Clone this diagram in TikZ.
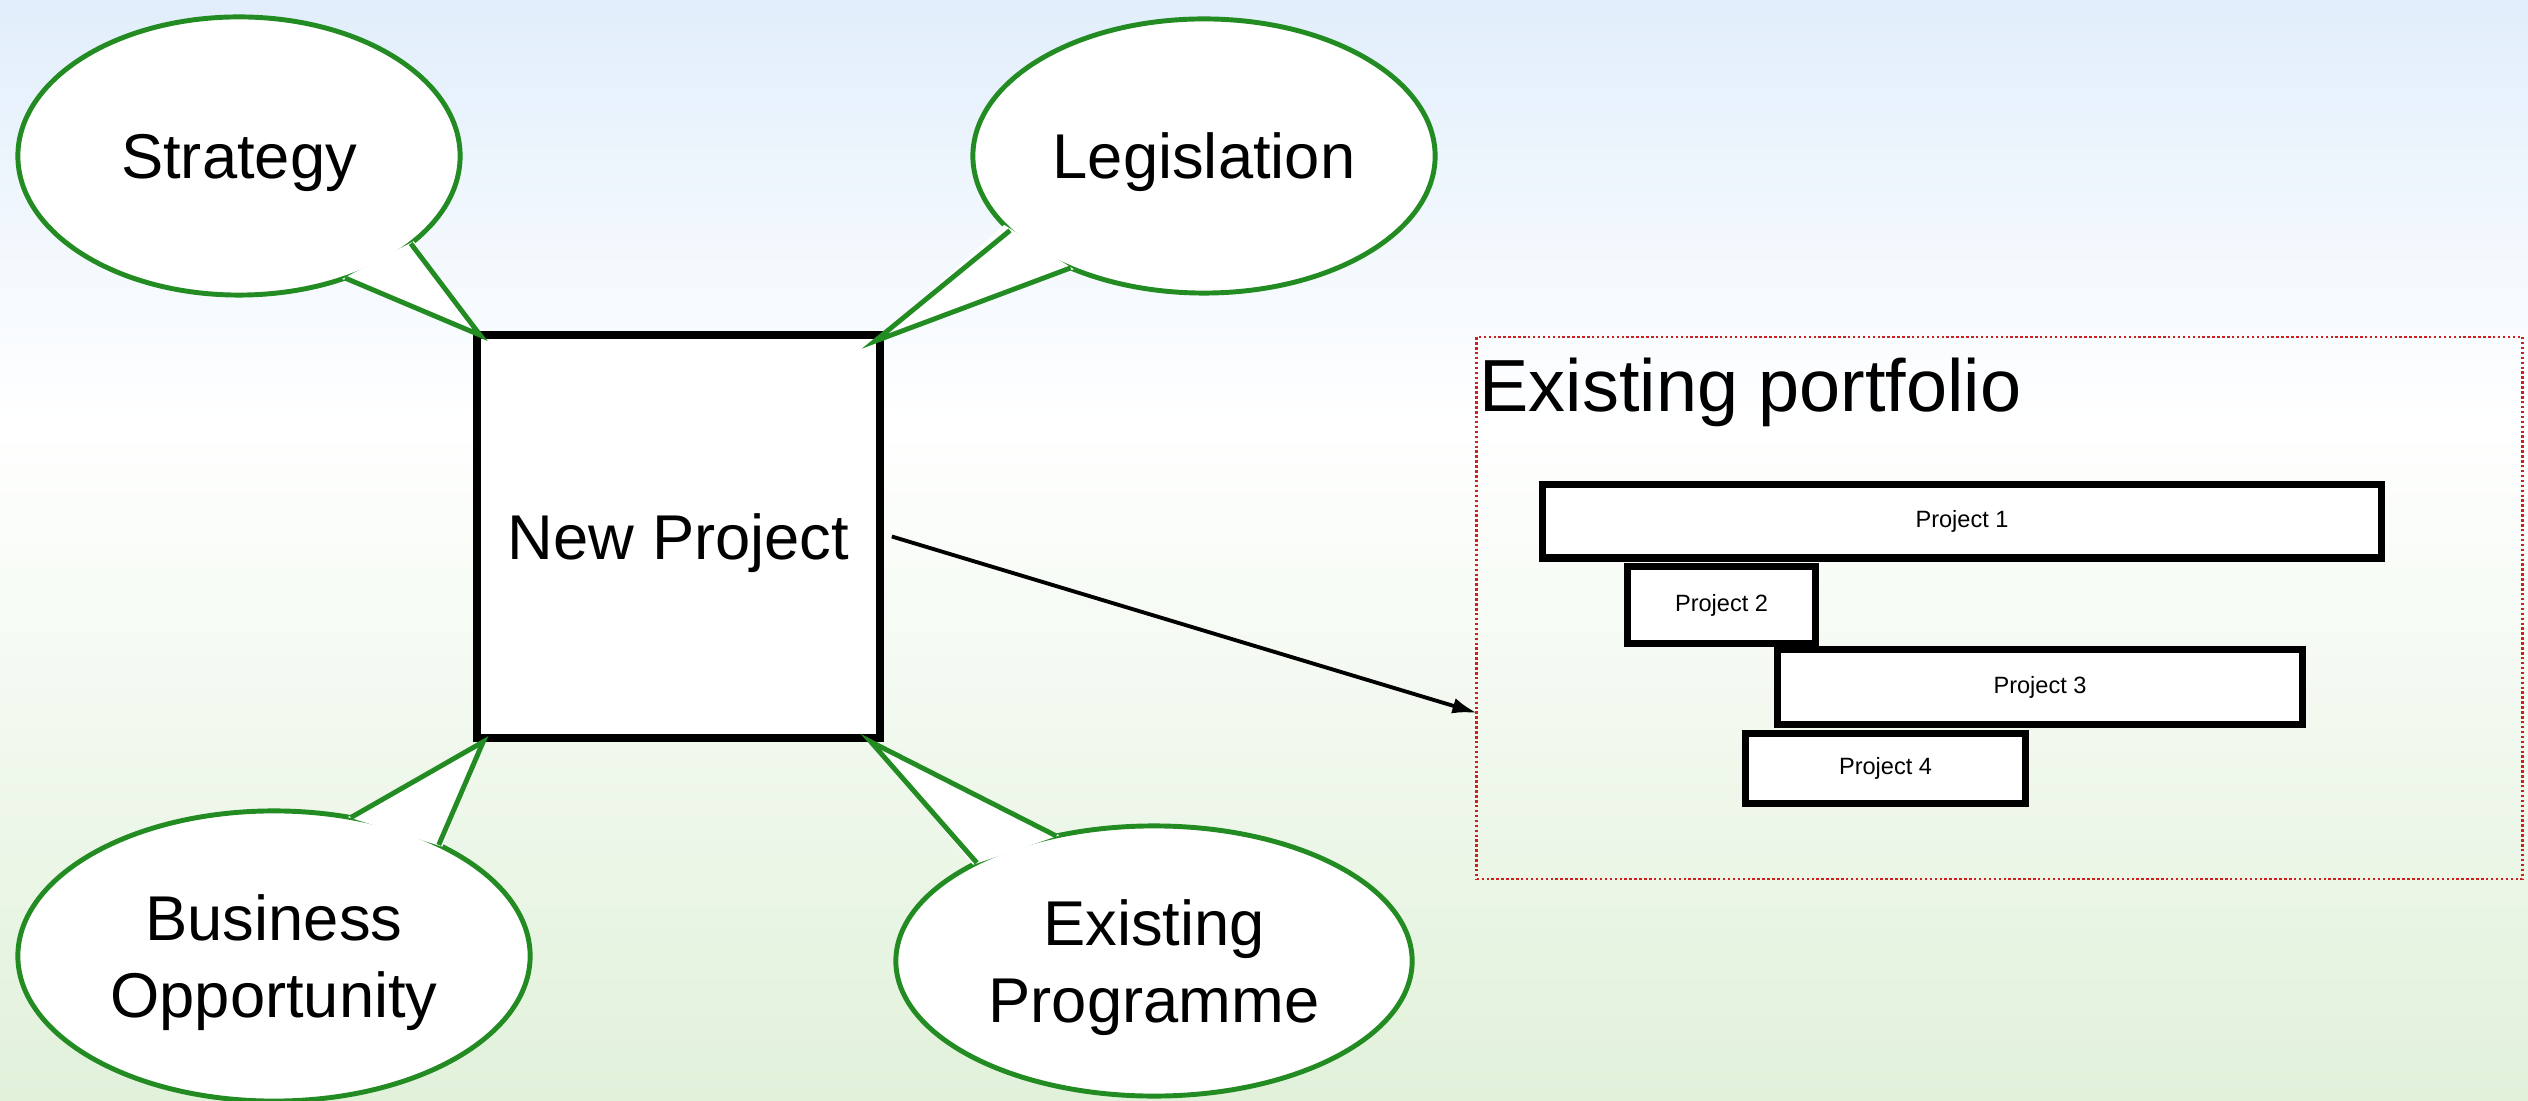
\documentclass[tikz,border=0pt]{standalone}
\usepackage{fontspec}
\setmainfont{Liberation Sans}
\usetikzlibrary{shapes.geometric,arrows.meta,calc}
\definecolor{calloutgreen}{RGB}{34,139,34}
\definecolor{skyblue}{RGB}{225,238,251}
\definecolor{meadow}{RGB}{225,241,218}
\definecolor{framered}{RGB}{204,32,32}

\begin{document}
\begin{tikzpicture}[x=0.01cm,y=-0.01cm,
  bubble/.style={ellipse, draw=calloutgreen, line width=1.4pt, fill=white,
    inner sep=0pt, outer sep=0pt, align=center,
    font=\fontsize{18}{22}\selectfont},
  tailfill/.style={fill=white},
  tailline/.style={draw=calloutgreen, line width=1.4pt, line join=miter},
  mainbox/.style={draw=black, line width=2.1pt, fill=white, inner sep=0pt,
    font=\fontsize{18}{22}\selectfont},
  projbar/.style={draw=black, line width=2pt, fill=white, inner sep=0pt,
    font=\fontsize{6.7}{8}\selectfont},
  portframe/.style={draw=framered, line width=0.7pt,
    dash pattern=on 0.7pt off 0.7pt, inner sep=0pt},
  link/.style={draw=black, line width=1.1pt, -{Latex[length=7pt,width=4.5pt]}}
]
% background: pale blue sky fading to white, then to pale green
\useasboundingbox (0,0) rectangle (2528,1101);
\shade[top color=skyblue, bottom color=white] (0,0) rectangle (2528,420);
\shade[top color=white, bottom color=meadow] (0,419) rectangle (2528,1101);

% central project box
\node[mainbox, minimum width=4.03cm, minimum height=4.03cm, text depth=-0.8pt] (np) at (678.5,536.5) {New Project};

% portfolio frame with its bars
\node[portframe, minimum width=10.45cm, minimum height=5.42cm] (pf) at (1999.5,608) {};
\node[anchor=base west, inner sep=0pt, font=\fontsize{21}{25}\selectfont] (pftitle) at (1479,412) {Existing portfolio};
\node[projbar, minimum width=8.38cm, minimum height=0.73cm] (p1) at (1962,521.5) {Project 1};
\node[projbar, minimum width=1.87cm, minimum height=0.76cm] (p2) at (1721.5,605) {Project 2};
\node[projbar, minimum width=5.24cm, minimum height=0.74cm] (p3) at (2040,687) {Project 3};
\node[projbar, minimum width=2.79cm, minimum height=0.69cm] (p4) at (1885.5,768.5) {Project 4};

% connector into the portfolio
\coordinate (pfentry) at (1477,713);
\draw[link] ($(np.east)+(8,0)$) -- (pfentry);

% speech bubbles pointing at the corners of the project box
\coordinate (tipS) at ($(np.north west)+(7,4)$);
\coordinate (tipL) at ($(np.north east)+(-9,10)$);
\coordinate (tipB) at ($(np.south west)+(10,0)$);
\coordinate (tipE) at ($(np.south east)+(-13,0)$);

\node[bubble, minimum width=4.42cm, minimum height=2.78cm, text depth=0pt] (strat) at (239,156) {Strategy};
\fill[tailfill] (strat.-50) -- (tipS) -- (strat.-26) -- cycle;
\draw[tailline] (strat.-49) -- (tipS) -- (strat.-27);

\node[bubble, minimum width=4.62cm, minimum height=2.74cm, text depth=0pt] (legis) at (1204,156) {Legislation};
\fill[tailfill] (legis.-139.5) -- (tipL) -- (legis.-161) -- cycle;
\draw[tailline] (legis.-140.5) -- (tipL) -- (legis.-159.8);

\node[bubble, minimum width=5.12cm, minimum height=2.90cm, text depth=-2.6pt] (busi) at (274,956) {Business\\Opportunity};
\fill[tailfill] (busi.62) -- (tipB) -- (busi.33) -- cycle;
\draw[tailline] (busi.61) -- (tipB) -- (busi.34.3);

\node[bubble, minimum width=5.16cm, minimum height=2.70cm, text depth=0pt] (prog) at (1154,961) {Existing\\Programme};
\fill[tailfill] (prog.152.5) -- (tipE) -- (prog.127.3) -- cycle;
\draw[tailline] (prog.151.4) -- (tipE) -- (prog.128.4);
\end{tikzpicture}
\end{document}
